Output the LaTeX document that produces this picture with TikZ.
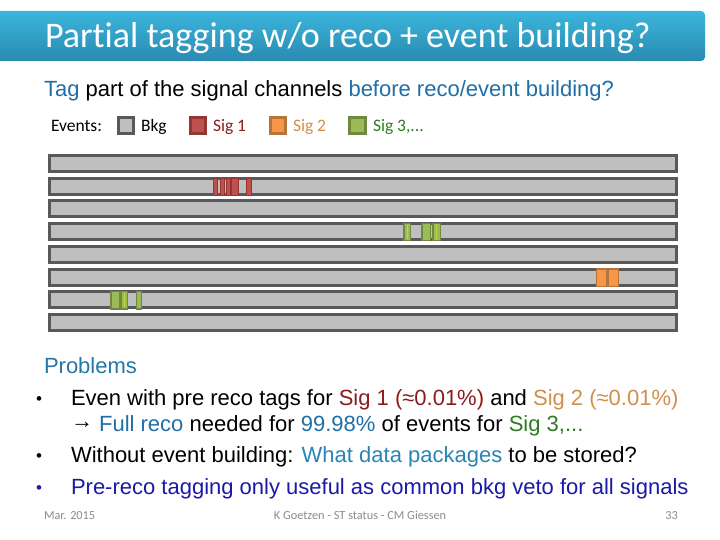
\documentclass[tikz,border=0pt]{standalone}
\usepackage{fontspec}
\setmainfont{Liberation Sans}
\newfontfamily\carl[Ligatures=NoCommon]{Carlito}
\definecolor{barTop}{HTML}{3BB5DC}
\definecolor{barBot}{HTML}{2A8AB0}
\definecolor{bkgFill}{HTML}{BFBFBF}
\definecolor{bkgLine}{HTML}{595959}
\definecolor{sOneFill}{HTML}{C0504D}
\definecolor{sOneLine}{HTML}{943634}
\definecolor{sTwoFill}{HTML}{F79646}
\definecolor{sTwoLine}{HTML}{B5743A}
\definecolor{sThreeFill}{HTML}{9BBB59}
\definecolor{sThreeLine}{HTML}{71893F}
\definecolor{txOne}{HTML}{8C1C1C}
\definecolor{txTwo}{HTML}{D0904C}
\definecolor{txThree}{HTML}{2E7D22}
\definecolor{txBlue}{HTML}{1F6FA8}
\definecolor{txBlueB}{HTML}{2A85B5}
\definecolor{txDeep}{HTML}{1A1AA8}
\definecolor{txProb}{HTML}{2577A8}
\definecolor{footGray}{HTML}{8C8C8C}
\tikzset{
  txt/.style={anchor=base west, inner sep=0pt, outer sep=0pt},
  rowbox/.style={draw=bkgLine, fill=bkgFill, line width=3pt},
  legbox/.style={line width=3pt},
  sigone/.style={draw=sOneLine, fill=sOneFill, line width=1.5pt},
  sigtwo/.style={draw=sTwoLine, fill=sTwoFill, line width=1.5pt},
  sigthree/.style={draw=sThreeLine, fill=sThreeFill, line width=1.5pt},
  bul/.style={anchor=base west, inner sep=0pt, font=\fontsize{17}{20}\selectfont},
  bodyf/.style={font=\fontsize{22}{26}\selectfont},
  legf/.style={font=\carl\fontsize{17.5}{20}\selectfont},
  footf/.style={text=footGray, font=\carl\fontsize{12.3}{14}\selectfont}
}
\begin{document}
\begin{tikzpicture}[x=1pt,y=-1pt]
\useasboundingbox (0,0) rectangle (720,540);
\fill[white] (0,0) rectangle (720,540);
% title bar
\shade[top color=barTop, bottom color=barBot, rounded corners=4pt] (-6,11) rectangle (705,61);
\node[txt, text=white, font=\carl\fontsize{36}{40}\selectfont] (title) at (45,48) {Partial tagging w/o reco + event building?};
% subtitle
\node[txt, bodyf] (sub) at (44,97) {\textcolor{txBlue}{Tag} part of the signal channels \textcolor{txBlue}{before reco/event building?}};
% legend
\node[txt, legf] (ev) at (51,132) {Events:};
\draw[legbox, draw=bkgLine, fill=bkgFill] (118.5,117.5) rectangle (133.5,133.5);
\node[txt, legf] (lbk) at (141,132) {Bkg};
\draw[legbox, draw=sOneLine, fill=sOneFill] (190.5,117.5) rectangle (205.5,133.5);
\node[txt, legf, text=txOne] (ls1) at (213,132) {Sig 1};
\draw[legbox, draw=sTwoLine, fill=sTwoFill] (270.5,117.5) rectangle (285.5,133.5);
\node[txt, legf, text=txTwo] (ls2) at (293,132) {Sig 2};
\draw[legbox, draw=sThreeLine, fill=sThreeFill] (349.5,117.5) rectangle (365.5,133.5);
\node[txt, legf, text=txThree] (ls3) at (373,132) {Sig 3,...};
% event rows
\foreach \i in {0,...,7}{
  \pgfmathsetmacro{\tp}{154+22.7*\i}
  \draw[rowbox] (49.5,\tp+1.5) rectangle (676.5,\tp+17.5);
}
% Sig 1 in row 2
\foreach \a/\b in {213.5/217.5, 220.5/224.5, 226.5/230.5, 231.5/238.5, 246.5/251.5}{
  \draw[sigone] (\a,178.5) rectangle (\b,195.5);
}
% Sig 3 in row 4
\foreach \a/\b in {404/410.5, 422/430.5, 433/440.5}{
  \draw[sigthree] (\a,223.5) rectangle (\b,240.5);
}
\draw[sThreeFill!60!yellow, line width=1pt] (407,225) -- (407,239) (436.5,225) -- (436.5,239);
% Sig 2 in row 6
\foreach \a/\b in {596.5/606.5, 608/618.5}{
  \draw[sigtwo] (\a,269) rectangle (\b,286.5);
}
% Sig 3 in row 7
\foreach \a/\b in {111/119.5, 121/127.5, 136.5/141.5}{
  \draw[sigthree] (\a,291.5) rectangle (\b,309);
}
\draw[sThreeFill!60!yellow, line width=1pt] (124,293) -- (124,307);
% problems
\node[txt, bodyf, text=txProb] (prob) at (44,373) {Problems};
\node[bul] (b1) at (36,404) {\textbullet};
\node[txt, bodyf] (l1) at (71,405) {Even with pre reco tags for \textcolor{txOne}{Sig 1 (≈0.01\%)} and \textcolor{txTwo}{Sig 2 (≈0.01\%)}};
\node[txt, bodyf] (l2) at (71,431) {\raisebox{2.5pt}{→} \textcolor{txBlue}{Full reco} needed for \textcolor{txBlue}{99.98\%} of events for \textcolor{txThree}{Sig 3,...}};
\node[bul] (b3) at (36,461) {\textbullet};
\node[txt, bodyf] (l3) at (71,462) {Without event building: \textcolor{txBlueB}{What data packages} to be stored?};
\node[bul, text=txDeep] (b4) at (36,493) {\textbullet};
\node[txt, bodyf, text=txDeep] (l4) at (71,494) {Pre-reco tagging only useful as common bkg veto for all signals};
% footer
\node[txt, footf] (f1) at (44,519) {Mar. 2015};
\node[anchor=base, inner sep=0pt, footf] (f2) at (360,519) {K Goetzen - ST status - CM Giessen};
\node[anchor=base east, inner sep=0pt, footf] (f3) at (678,519) {33};
\end{tikzpicture}
\end{document}
